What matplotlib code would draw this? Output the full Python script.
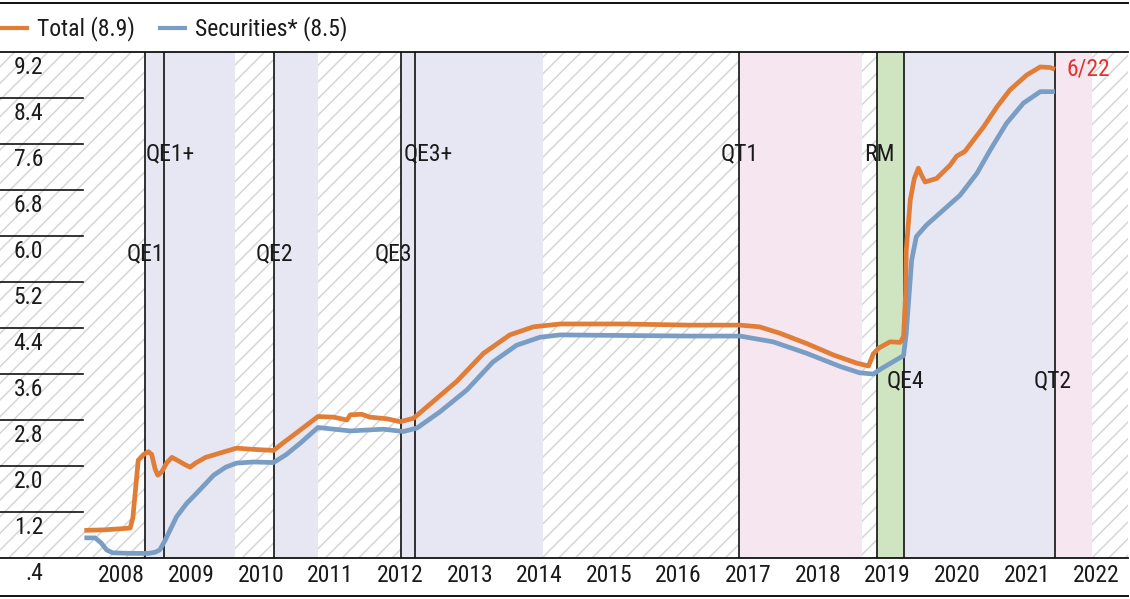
import numpy as np
import matplotlib
matplotlib.use("Agg")
import matplotlib.pyplot as plt
from matplotlib import font_manager
from matplotlib.transforms import blended_transform_factory, offset_copy
from matplotlib.lines import Line2D

# ---------------- data (years as decimals, values in $ trillions) ----------------
total_t = [2008.00, 2008.30, 2008.68, 2008.72, 2008.80, 2008.88, 2008.95, 2009.00, 2009.05,
           2009.09, 2009.15, 2009.22, 2009.30, 2009.38, 2009.50, 2009.57, 2009.65, 2009.80,
           2010.00, 2010.26, 2010.50, 2010.81, 2010.95, 2011.20, 2011.47, 2011.70, 2011.90,
           2011.95, 2012.12, 2012.24, 2012.50, 2012.69, 2012.89, 2013.18, 2013.53, 2013.93,
           2014.32, 2014.67, 2015.07, 2015.50, 2016.00, 2016.50, 2017.00, 2017.74, 2018.03,
           2018.33, 2018.73, 2019.13, 2019.47, 2019.65, 2019.72, 2019.80, 2019.97, 2020.12,
           2020.17, 2020.20, 2020.21, 2020.27, 2020.33, 2020.39, 2020.44, 2020.49, 2020.66,
           2020.86, 2020.96, 2021.08, 2021.36, 2021.56, 2021.75, 2022.00, 2022.20, 2022.35,
           2022.42]
total_v = [0.88, 0.89, 0.92, 1.10, 2.10, 2.20, 2.25, 2.20, 1.95,
           1.84, 1.90, 2.05, 2.15, 2.10, 2.02, 1.98, 2.05, 2.15,
           2.22, 2.31, 2.29, 2.27, 2.40, 2.62, 2.86, 2.85, 2.80,
           2.89, 2.90, 2.85, 2.82, 2.77, 2.83, 3.12, 3.47, 3.96,
           4.28, 4.42, 4.47, 4.47, 4.47, 4.46, 4.45, 4.45, 4.42,
           4.31, 4.13, 3.93, 3.79, 3.74, 3.95, 4.05, 4.16, 4.15,
           4.25, 5.00, 5.76, 6.63, 7.00, 7.18, 7.05, 6.94, 7.00,
           7.23, 7.39, 7.47, 7.90, 8.25, 8.54, 8.80, 8.94, 8.93,
           8.90]

sec_t = [2008.00, 2008.16, 2008.25, 2008.33, 2008.42, 2008.70, 2008.95, 2009.05, 2009.12,
         2009.20, 2009.37, 2009.52, 2009.67, 2009.92, 2010.10, 2010.26, 2010.51, 2010.81,
         2011.00, 2011.20, 2011.47, 2011.95, 2012.44, 2012.74, 2012.94, 2013.28, 2013.68,
         2014.07, 2014.42, 2014.77, 2015.07, 2016.00, 2017.00, 2017.74, 2018.23, 2018.73,
         2019.23, 2019.52, 2019.72, 2019.85, 2020.17, 2020.21, 2020.29, 2020.36, 2020.51,
         2020.76, 2021.01, 2021.26, 2021.46, 2021.70, 2021.95, 2022.20, 2022.42]
sec_v = [0.75, 0.75, 0.66, 0.54, 0.49, 0.48, 0.48, 0.50, 0.54,
         0.71, 1.12, 1.35, 1.53, 1.84, 1.98, 2.05, 2.07, 2.06,
         2.20, 2.39, 2.67, 2.61, 2.64, 2.60, 2.66, 2.94, 3.32,
         3.81, 4.10, 4.24, 4.28, 4.27, 4.26, 4.26, 4.16, 3.96,
         3.73, 3.62, 3.60, 3.70, 3.92, 4.31, 5.58, 5.99, 6.19,
         6.45, 6.71, 7.09, 7.50, 7.96, 8.31, 8.51, 8.51]

series_names = ["Total (8.9)", "Securities* (8.5)"]

events = ["QE1", "QE1+", "QE2", "QE3", "QE3+", "QT1", "RM", "QE4", "QT2"]
event_t = [2008.90, 2009.18, 2010.82, 2012.70, 2012.91, 2017.73, 2019.78, 2020.18, 2022.42]

qe_spans = [(2008.90, 2010.237), (2010.82, 2011.475), (2012.70, 2014.81), (2020.18, 2022.42)]
qt_spans = [(2017.73, 2019.553), (2022.42, 2022.97)]
rm_spans = [(2019.78, 2020.18)]

y_ticks = [9.2, 8.4, 7.6, 6.8, 6.0, 5.2, 4.4, 3.6, 2.8, 2.0, 1.2, 0.4]
y_labels = ["9.2", "8.4", "7.6", "6.8", "6.0", "5.2", "4.4", "3.6", "2.8", "2.0", "1.2", ".4"]
year_labels = ["2008", "2009", "2010", "2011", "2012", "2013", "2014", "2015",
               "2016", "2017", "2018", "2019", "2020", "2021", "2022"]
end_label = "6/22"

# ---------------- style ----------------
names = {f.name for f in font_manager.fontManager.ttflist}
family = None
for cand in ["Roboto Condensed", "Liberation Sans Narrow", "Open Sans Condensed",
             "Noto Sans Condensed", "DejaVu Sans Condensed"]:
    if cand in names:
        family = cand
        break
condensed = family is not None
if family is None:
    family = "Liberation Sans" if "Liberation Sans" in names else "DejaVu Sans"
plt.rcParams["font.family"] = [family, "DejaVu Sans"]
FS = 17 if condensed else 15
plt.rcParams["hatch.linewidth"] = 1.1

C_TOTAL = "#e07d37"
C_SEC = "#7a9dc4"
C_QE = "#e7e6f3"
C_QT = "#f6e6f0"
C_RM = "#cfe5c1"
C_HATCH = "#d6d6d6"
C_TXT = "#1a1a1a"

W, H = 1130, 599
fig = plt.figure(figsize=(W / 100, H / 100), dpi=100)
ax = fig.add_axes([0, (H - 558) / H, 1128 / W, 506 / H])

x0 = 2008 - 84.4 / 67.31
x1 = 2008 + (1128 - 84.4) / 67.31
ax.set_xlim(x0, x1)
ax.set_ylim(0.4, 9.2)

# hatched background
ax.axvspan(x0, x1, facecolor="white", edgecolor=C_HATCH, hatch="//", linewidth=0, zorder=0)
for a, b in qe_spans:
    ax.axvspan(a, b, facecolor=C_QE, edgecolor="none", linewidth=0, zorder=1)
for a, b in qt_spans:
    ax.axvspan(a, b, facecolor=C_QT, edgecolor="none", linewidth=0, zorder=1)
for a, b in rm_spans:
    ax.axvspan(a, b, facecolor=C_RM, edgecolor="none", linewidth=0, zorder=1)

for t in event_t:
    ax.axvline(t, color="#111111", lw=1.2, zorder=2)

ax.plot(sec_t, sec_v, color=C_SEC, lw=3.4, solid_capstyle="butt", zorder=3)
ax.plot(total_t, total_v, color=C_TOTAL, lw=3.4, solid_capstyle="butt", zorder=3)

# short gridlines in label column
grid_frac = 83 / 1128
for v in y_ticks[1:-1]:
    ax.axhline(v, xmin=0, xmax=grid_frac, color="#111111", lw=1.2, zorder=2)

# y labels (below their line)
ytrans = offset_copy(blended_transform_factory(ax.transAxes, ax.transData), fig=fig, y=-15, units="dots")
for v, lab in zip(y_ticks, y_labels):
    ax.text(43 / 1128, v, lab, transform=ytrans, ha="right", va="center",
            fontsize=FS, color=C_TXT, zorder=5)

# year labels
year_pos = np.linspace(2008 + (121.5 - 84.4) / 67.31, 2008 + (1096.5 - 84.4) / 67.31, len(year_labels))
ax.set_xticks(year_pos)
ax.set_xticklabels(year_labels, fontsize=FS, color=C_TXT)
ax.tick_params(axis="x", length=0, pad=4)
ax.set_yticks([])

# event labels
ev_dx = [0, 6, 0, -7, 13, 0, 2, 1, -2]
ev_y = [0.601, 0.798, 0.601, 0.601, 0.798, 0.798, 0.798, 0.350, 0.350]
etr = blended_transform_factory(ax.transData, ax.transAxes)
for lab, t, dx, yy in zip(events, event_t, ev_dx, ev_y):
    tr = offset_copy(etr, fig=fig, x=dx, units="dots")
    ax.text(t, yy, lab, transform=tr, ha="center", va="center", fontsize=FS,
            color=C_TXT, zorder=5)

# end label
ax.text(total_t[-1], total_v[-1], end_label,
        transform=offset_copy(ax.transData, fig=fig, x=11, units="dots"),
        ha="left", va="center", fontsize=FS, color="#e4322b", zorder=5)

for s in ["left", "right"]:
    ax.spines[s].set_visible(False)
for s in ["top", "bottom"]:
    ax.spines[s].set_linewidth(1.3)
    ax.spines[s].set_color("#111111")
    ax.spines[s].set_zorder(6)

# legend
h1 = Line2D([], [], color=C_TOTAL, lw=3.0)
h2 = Line2D([], [], color=C_SEC, lw=3.0)
fig.legend([h1, h2], series_names, loc="center left", bbox_to_anchor=(0.0, 1 - 29 / H),
           ncol=2, frameon=False, fontsize=FS, handlelength=1.05, handletextpad=0.4,
           columnspacing=1.1, borderaxespad=0, borderpad=0.1, labelcolor=C_TXT)

# frame lines at top and bottom of figure
fig.add_artist(Line2D([0, 1128 / W], [1 - 2.5 / H, 1 - 2.5 / H], transform=fig.transFigure,
                      color="#111111", lw=1.4))
fig.add_artist(Line2D([0, 1128 / W], [1 - 595.5 / H, 1 - 595.5 / H], transform=fig.transFigure,
                      color="#111111", lw=1.4))

fig.savefig("out.png", dpi=100)
